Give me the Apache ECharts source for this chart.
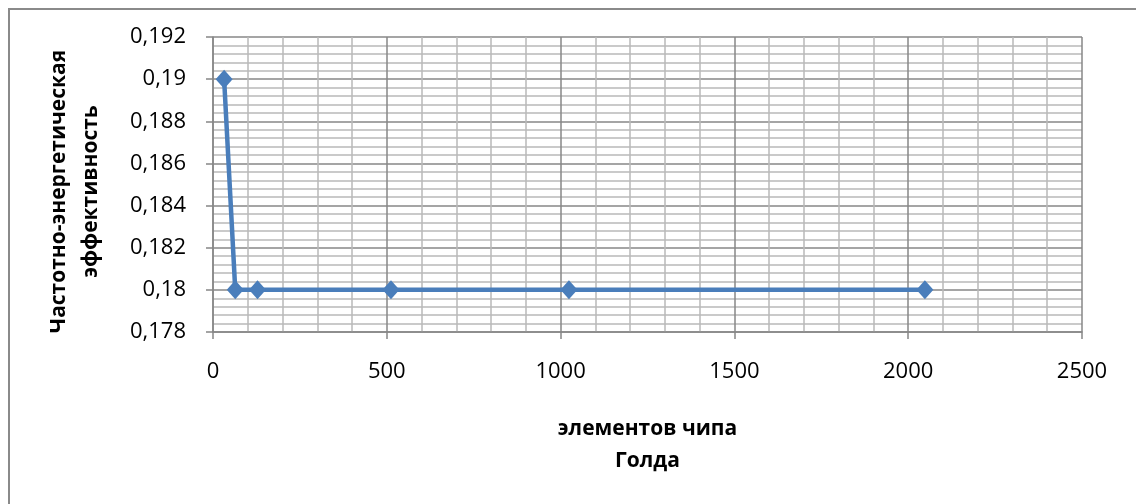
<!DOCTYPE html>
<html>
<head>
<meta charset="utf-8">
<script src="https://cdn.jsdelivr.net/npm/echarts@6/dist/echarts.min.js"></script>
<style>
  html, body { margin: 0; padding: 0; background: #fff; }
  #chart { width: 1136px; height: 504px; }
</style>
</head>
<body>
<div id="chart"></div>
<script>
// Chip element counts and the corresponding frequency-energy efficiency
const chipElements = [32, 64, 128, 512, 1024, 2048];
const efficiency = [0.19, 0.18, 0.18, 0.18, 0.18, 0.18];

const xTitle = 'элементов чипа\nГолда';
const yTitle = 'Частотно-энергетическая\nэффективность';

const FONT = '"Open Sans", "Noto Sans", sans-serif';
const MAJOR = '#878787';
const MINOR = '#b9b9b9';
const SERIES = '#4a7ebb';

const chart = echarts.init(document.getElementById('chart'), null, { renderer: 'canvas' });

chart.setOption({
  animation: false,
  backgroundColor: '#ffffff',
  graphic: [{
    type: 'rect',
    shape: { x: 9, y: 9, width: 1300, height: 700 },
    style: { fill: 'none', stroke: '#8a8a8a', lineWidth: 2 },
    silent: true
  }],
  grid: { left: 213, right: 54, top: 37, bottom: 172 },
  xAxis: {
    type: 'value',
    min: 0, max: 2500, interval: 500,
    name: xTitle,
    nameLocation: 'middle',
    nameGap: 81,
    nameTextStyle: { fontFamily: FONT, fontWeight: 'bold', fontSize: 21, lineHeight: 32, color: '#000' },
    axisLine: { show: true, lineStyle: { color: MAJOR, width: 1.5 } },
    axisTick: { show: true, length: 7, inside: false, lineStyle: { color: MAJOR, width: 1.5 } },
    axisLabel: {
      fontFamily: FONT, fontSize: 22, color: '#000', margin: 29,
      formatter: v => String(v)
    },
    splitLine: { show: true, lineStyle: { color: MAJOR, width: 1.5 } },
    minorTick: { show: false, splitNumber: 5 },
    minorSplitLine: { show: true, lineStyle: { color: MINOR, width: 1.5 } }
  },
  yAxis: {
    type: 'value',
    min: 0.178, max: 0.192, interval: 0.002,
    name: yTitle,
    nameLocation: 'middle',
    nameRotate: 90,
    nameGap: 106,
    nameTextStyle: {
      fontFamily: FONT, fontWeight: 'bold', fontSize: 21, lineHeight: 32, color: '#000',
      padding: [0, 14, 0, 0]
    },
    axisLine: { show: true, lineStyle: { color: MAJOR, width: 1.5 } },
    axisTick: { show: true, length: 7, inside: false, lineStyle: { color: MAJOR, width: 1.5 } },
    axisLabel: {
      fontFamily: FONT, fontSize: 22, color: '#000', margin: 27,
      formatter: v => String(+v.toFixed(3)).replace('.', ',')
    },
    splitLine: { show: true, lineStyle: { color: MAJOR, width: 1.5 } },
    minorTick: { show: false, splitNumber: 5 },
    minorSplitLine: { show: true, lineStyle: { color: MINOR, width: 1.5 } }
  },
  series: [{
    type: 'line',
    data: chipElements.map((x, i) => [x, efficiency[i]]),
    symbol: 'diamond',
    symbolSize: [17, 19],
    lineStyle: { color: SERIES, width: 4.5 },
    itemStyle: { color: SERIES },
    z: 5
  }]
});
</script>
</body>
</html>
